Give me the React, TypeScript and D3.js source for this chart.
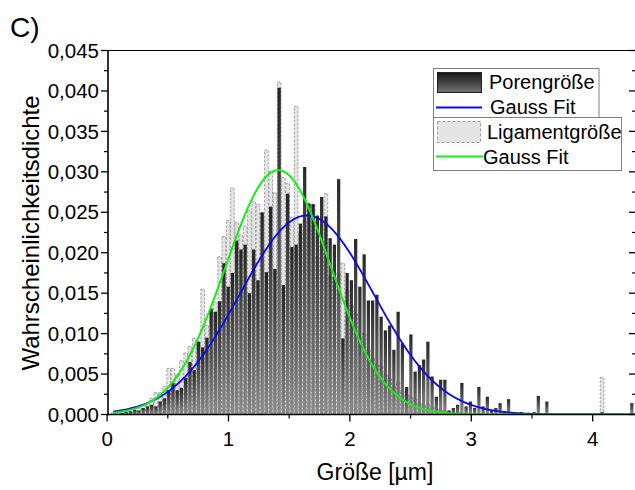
import React from "react";
import * as d3 from "d3";

// ---- data ----
const binWidth = 0.035; // µm
const poreValues = [
  0, 0, 0, 0.0002, 0.0003, 0.0004, 0.0006, 0.0005, 0.0008, 0.001,
  0.0012, 0.001, 0.0016, 0.002, 0.003, 0.0039, 0.003, 0.0033, 0.0045, 0.0065,
  0.0055, 0.009, 0.0083, 0.0095, 0.0131, 0.0127, 0.014, 0.0187, 0.0158, 0.0175,
  0.0215, 0.0204, 0.021, 0.015, 0.0204, 0.0166, 0.025, 0.0176, 0.0257, 0.018,
  0.0404, 0.016, 0.0273, 0.0207, 0.021, 0.0236, 0.0306, 0.0261, 0.026, 0.0246,
  0.0269, 0.0245, 0.0218, 0.021, 0.0291, 0.0094, 0.0175, 0.0166, 0.0217, 0.0158,
  0.0198, 0.0141, 0.0141, 0.0148, 0.0121, 0.0104, 0.011, 0.008, 0.0127, 0.0088,
  0.0034, 0.0099, 0.0053, 0.0061, 0.0068, 0.009, 0.0047, 0.0022, 0.0043, 0.0043,
  0.0005, 0.0008, 0.0012, 0.0039, 0.001, 0.0016, 0.0008, 0.0034, 0.001, 0.0022,
  0.0005, 0.0008, 0.0014, 0.0004, 0.0019, 0.0003, 0.0002, 0.0003, 0, 0.0002,
  0.0003, 0.0023, 0, 0.0016, 0, 0, 0, 0, 0, 0,
  0, 0, 0, 0, 0, 0, 0.0003, 0, 0, 0,
  0, 0, 0, 0.0014,
];
const ligamentValues = [
  0, 0.0002, 0.0002, 0.0004, 0.0004, 0.0003, 0.0005, 0.0008, 0.0007, 0.0012,
  0.002, 0.0027, 0.0027, 0.0035, 0.0057, 0.0057, 0.0049, 0.0067, 0.0076, 0.0084,
  0.0094, 0.009, 0.0155, 0.011, 0.0125, 0.0139, 0.0195, 0.022, 0.024, 0.028,
  0.0237, 0.0222, 0.0233, 0.0252, 0.0263, 0.026, 0.0249, 0.0327, 0.0301, 0.0274,
  0.0411, 0.0293, 0.0286, 0.0244, 0.0381, 0.0225, 0.024, 0.026, 0.026, 0.0195,
  0.0215, 0.0273, 0.017, 0.017, 0.0175, 0.0187, 0.0154, 0.0135, 0.0125, 0.0095,
  0.01, 0.008, 0.007, 0.0062, 0.006, 0.005, 0.0045, 0.0035, 0.004, 0.003,
  0.0025, 0.0022, 0.002, 0.0015, 0.0012, 0.0013, 0.001, 0.0008, 0.0006, 0.0005,
  0.0004, 0.0003, 0.0003, 0.0002, 0, 0, 0, 0, 0, 0,
  0, 0, 0, 0, 0, 0, 0, 0, 0, 0,
  0, 0, 0, 0, 0, 0, 0, 0, 0, 0,
  0, 0, 0, 0, 0, 0, 0.0046, 0, 0, 0,
  0, 0, 0, 0,
];
// Gauss fit parameters (amplitude, centre, sigma)
const poreFit = [0.0246, 1.645, 0.55];
const ligamentFit = [0.0302, 1.41, 0.433];
const xTicks = [0, 1, 2, 3, 4];
const yTicks = [0, 0.005, 0.01, 0.015, 0.02, 0.025, 0.03, 0.035, 0.04, 0.045];
const legendLabels = ["Porengröße", "Gauss Fit", "Ligamentgröße", "Gauss Fit"];
const xTitle = "Größe [µm]";
const yTitle = "Wahrscheinlichkeitsdichte";
const panelLabel = "C)";

const FONT = "'Liberation Sans', Arial, sans-serif";

export default function App() {
  const x = d3.scaleLinear().domain([0, 4.357]).range([107.1, 636]);
  const y = d3.scaleLinear().domain([0, 0.045]).range([414.5, 50.5]);
  const left = 108;
  const right = 636;
  const top = y(0.045);
  const bottom = y(0);

  const gauss = (p: number[]) => (v: number) =>
    p[0] * Math.exp(-((v - p[1]) ** 2) / (2 * p[2] * p[2]));
  const xs = d3.range(0.05, 4.357, 0.01);
  const line = d3
    .line<number>()
    .x((d) => x(d))
    .curve(d3.curveLinear);
  const porePath = line.y((d) => y(gauss(poreFit)(d)))(xs) || "";
  const ligPath = line.y((d) => y(gauss(ligamentFit)(d)))(xs) || "";

  const bw = x(binWidth) - x(0);
  const yMinor = d3.range(0.0025, 0.045, 0.005);
  const xMinor = [0.5, 1.5, 2.5, 3.5];
  const fmt = (v: number) => d3.format(".3f")(v).replace(".", ",");

  return (
    <svg
      width={635}
      height={490}
      style={{ position: "absolute", left: 0, top: 0, background: "#fff" }}
      fontFamily={FONT}
    >
      <defs>
        <linearGradient id="poreGrad" x1="0" y1="0" x2="0" y2="1">
          <stop offset="0" stopColor="#000" />
          <stop offset="1" stopColor="#7a7a7a" />
        </linearGradient>
        <linearGradient id="poreLeg" x1="0" y1="0" x2="0" y2="1">
          <stop offset="0" stopColor="#151515" />
          <stop offset="1" stopColor="#727272" />
        </linearGradient>
        <clipPath id="plotClip">
          <rect x={left} y={top} width={right - left} height={bottom - top} />
        </clipPath>
      </defs>
      <rect width={635} height={490} fill="#fff" />

      <g clipPath="url(#plotClip)">
        {ligamentValues.map((v, i) =>
          v > 0 ? (
            <rect
              key={"l" + i}
              x={x(i * binWidth) + 0.3}
              y={y(v)}
              width={bw - 0.6}
              height={bottom - y(v)}
              fill="#e4e4e4"
              stroke="#9a9a9a"
              strokeWidth={0.9}
              strokeDasharray="2.5,1.5"
            />
          ) : null
        )}
        {poreValues.map((v, i) =>
          v > 0 ? (
            <rect
              key={"p" + i}
              x={x(i * binWidth) + 0.5}
              y={y(v)}
              width={bw - 1}
              height={bottom - y(v)}
              fill="url(#poreGrad)"
              opacity={0.84}
            />
          ) : null
        )}
        <path d={porePath} fill="none" stroke="#0a0af0" strokeWidth={1.8} />
        <path d={ligPath} fill="none" stroke="#14ee14" strokeWidth={2} />
      </g>

      {/* frame */}
      <line x1={left} x2={right} y1={top} y2={top} stroke="#000" strokeWidth={1.2} />
      <line x1={left} x2={left} y1={top} y2={bottom + 0.8} stroke="#000" strokeWidth={1.6} />
      <line x1={left - 1} x2={right} y1={bottom} y2={bottom} stroke="#000" strokeWidth={1.6} />

      {/* y ticks */}
      {yTicks.map((t) => (
        <g key={"yt" + t}>
          <line x1={left - 7} x2={left} y1={y(t)} y2={y(t)} stroke="#000" strokeWidth={1.3} />
          <line x1={right - 7} x2={right} y1={y(t)} y2={y(t)} stroke="#000" strokeWidth={1.3} />
          <text x={left - 9} y={y(t)} dy="0.35em" textAnchor="end" fontSize={20.5}>
            {fmt(t)}
          </text>
        </g>
      ))}
      {yMinor.map((t) => (
        <g key={"ym" + t}>
          <line x1={left - 4} x2={left} y1={y(t)} y2={y(t)} stroke="#000" strokeWidth={1.2} />
          <line x1={right - 4} x2={right} y1={y(t)} y2={y(t)} stroke="#000" strokeWidth={1.2} />
        </g>
      ))}

      {/* x ticks */}
      {xTicks.map((t) => (
        <g key={"xt" + t}>
          <line x1={x(t)} x2={x(t)} y1={bottom} y2={bottom + 7} stroke="#000" strokeWidth={1.3} />
          <text x={x(t)} y={bottom + 31} textAnchor="middle" fontSize={20.5}>
            {t}
          </text>
        </g>
      ))}
      {xMinor.map((t) => (
        <line key={"xm" + t} x1={x(t)} x2={x(t)} y1={bottom} y2={bottom + 4} stroke="#000" strokeWidth={1.2} />
      ))}

      {/* titles */}
      <text x={375} y={480} textAnchor="middle" fontSize={23}>
        {xTitle}
      </text>
      <text transform="translate(39,233) rotate(-90)" textAnchor="middle" fontSize={24}>
        {yTitle}
      </text>
      <text x={10} y={37} fontSize={28}>
        {panelLabel}
      </text>

      {/* legend */}
      <rect x={433.5} y={68.5} width={165.5} height={49} fill="#fff" stroke="#808080" strokeWidth={1} />
      <rect x={433.5} y={117.5} width={188} height={53} fill="#fff" stroke="#808080" strokeWidth={1} />
      <rect x={437.5} y={72.5} width={44} height={20} fill="url(#poreLeg)" stroke="#222" strokeWidth={1} />
      <text x={489} y={89} fontSize={20}>
        {legendLabels[0]}
      </text>
      <line x1={436} x2={482} y1={107.5} y2={107.5} stroke="#0a0af0" strokeWidth={1.8} />
      <text x={490} y={114} fontSize={20}>
        {legendLabels[1]}
      </text>
      <rect
        x={437.5}
        y={121.5}
        width={43}
        height={21}
        fill="#e4e4e4"
        stroke="#9a9a9a"
        strokeWidth={1}
        strokeDasharray="3,2"
      />
      <text x={487} y={139} fontSize={20}>
        {legendLabels[2]}
      </text>
      <line x1={436} x2={483} y1={156.5} y2={156.5} stroke="#14ee14" strokeWidth={2} />
      <text x={483} y={164} fontSize={20}>
        {legendLabels[3]}
      </text>
    </svg>
  );
}
